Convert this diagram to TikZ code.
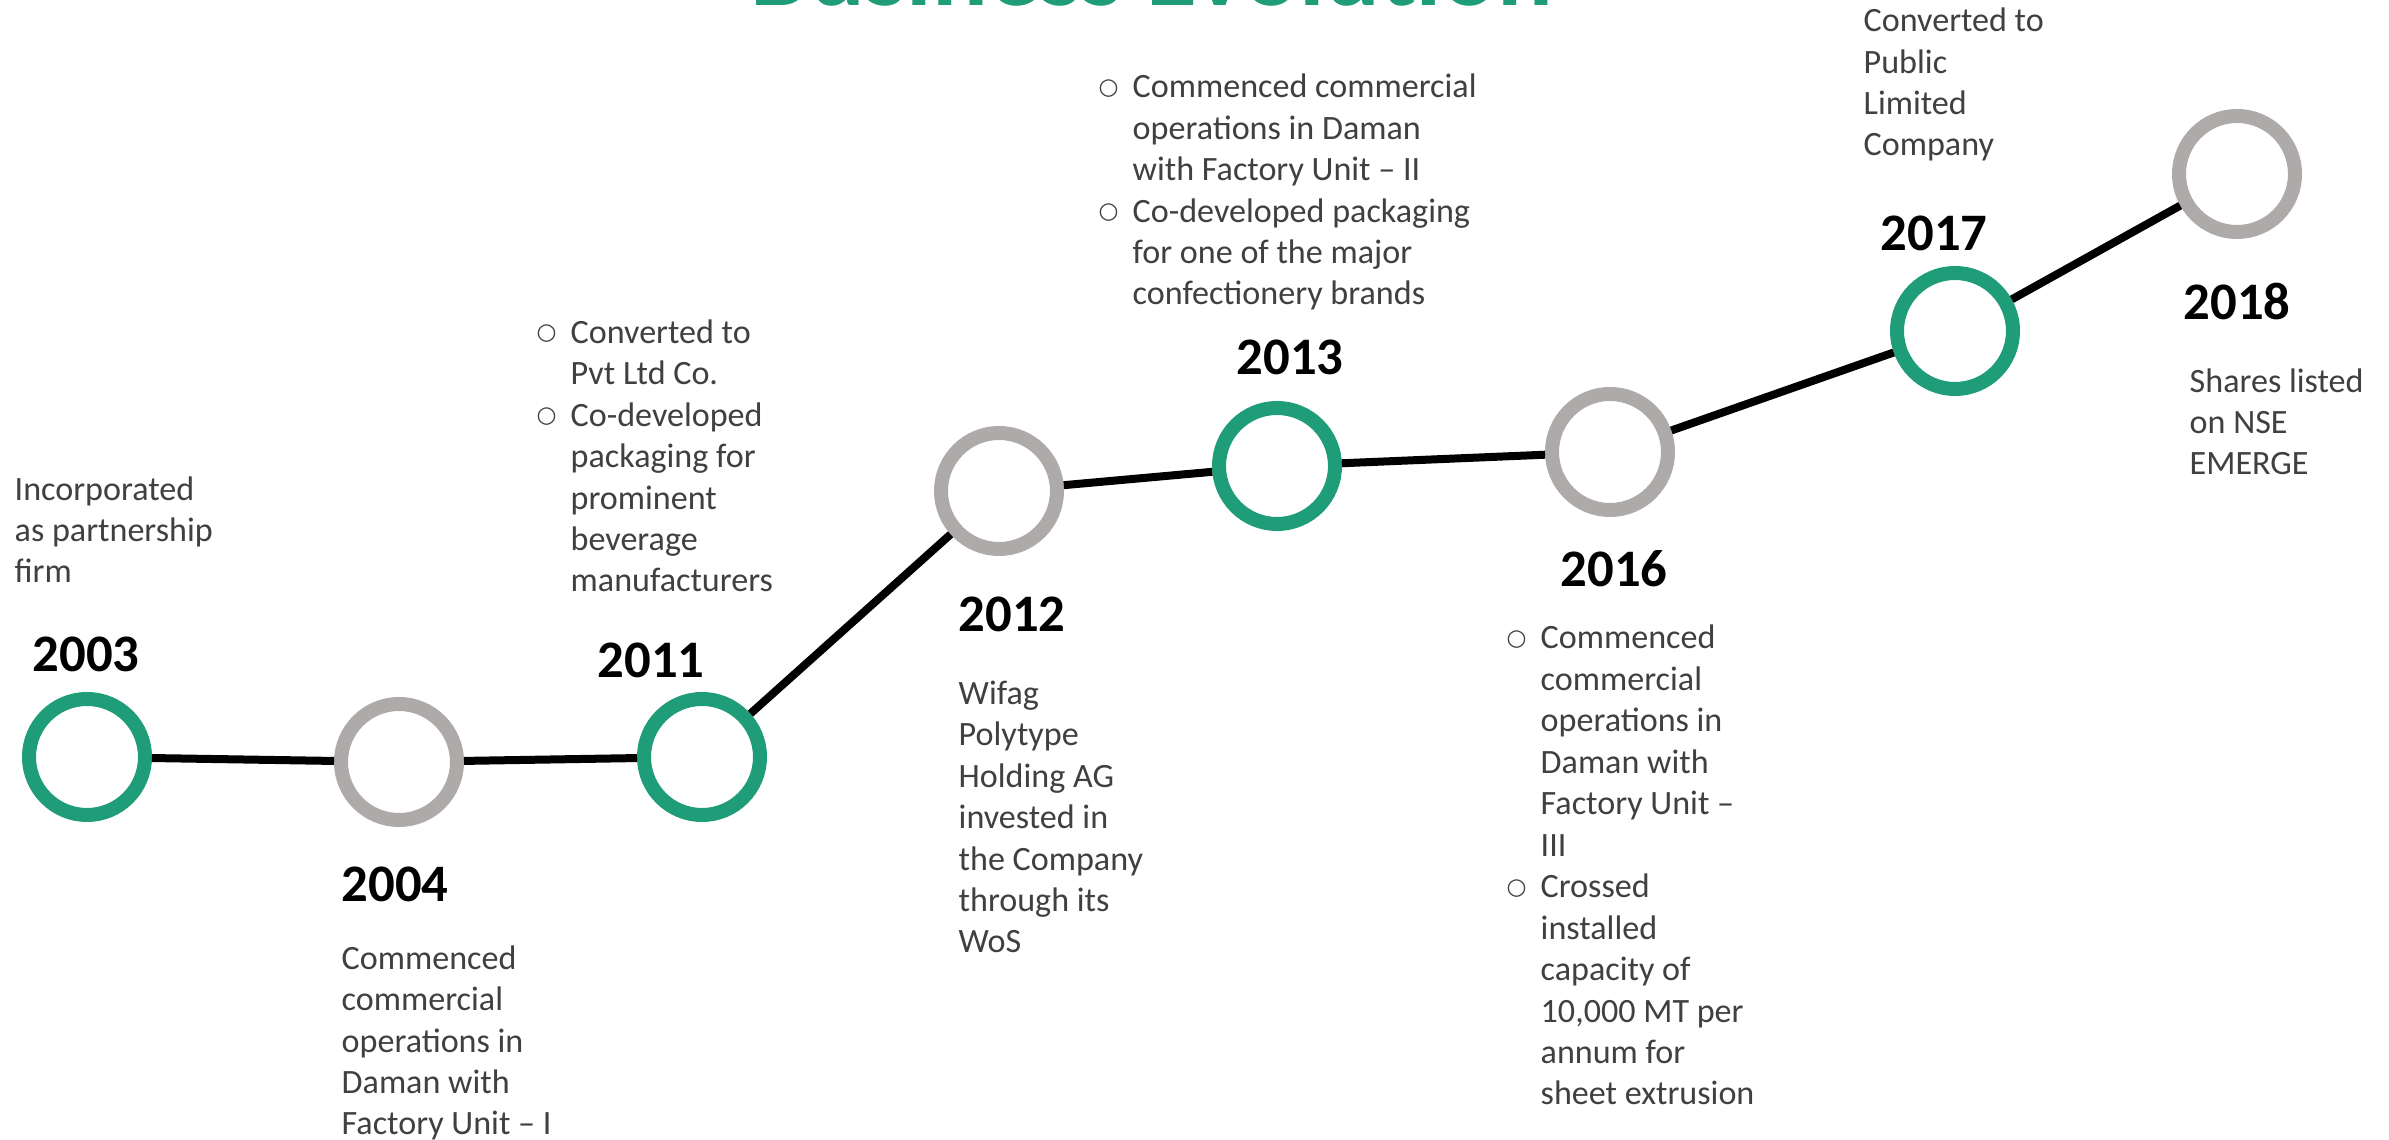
\documentclass[tikz,border=0pt]{standalone}
\usepackage{fontspec}
\setmainfont{Carlito}
\newfontfamily\bulletfont{DejaVu Sans}
\usepackage{tikz}
\usetikzlibrary{positioning}

\definecolor{evogreen}{HTML}{1F9C78}
\definecolor{evogray}{HTML}{ADAAA9}
\definecolor{evotext}{HTML}{404040}

\newcommand{\bul}{\makebox[0.34cm][l]{\raisebox{0.2ex}{\bulletfont\fontsize{6.5}{7}\selectfont ○}}}
\newcommand{\ind}{\hspace*{0.34cm}}

\tikzset{
  ring/.style={circle, draw=#1, line width=0.14cm, fill=white, minimum size=1.16cm, inner sep=0pt},
  timeline/.style={line width=0.08cm, black},
  year/.style={font=\bfseries\fontsize{15}{18}\selectfont, inner sep=0pt, anchor=base west},
  % base anchor of a multi-line node sits on its last line
  blurb/.style={font=\fontsize{9.7}{11.8}\selectfont, text=evotext, align=left, inner sep=0pt, anchor=base west}
}

\begin{document}
\begin{tikzpicture}
  \clip (0,0) rectangle (23.89,11.40);
  \fill[white] (0,0) rectangle (23.89,11.40);
  % title, cut off at the top
  \node[font=\bfseries\fontsize{29.6}{34}\selectfont, text=evogreen, inner sep=0pt, anchor=base] (title) at (11.52,11.34) {Business Evolution};
  \coordinate (p2003) at (0.87,3.83);
  \coordinate (p2004) at (3.99,3.78);
  \coordinate (p2011) at (7.02,3.83);
  \coordinate (p2012) at (9.99,6.49);
  \coordinate (p2013) at (12.77,6.74);
  \coordinate (p2016) at (16.10,6.88);
  \coordinate (p2017) at (19.55,8.09);
  \coordinate (p2018) at (22.37,9.66);
  \foreach \y/\c in {2003/evogreen,2004/evogray,2011/evogreen,2012/evogray,2013/evogreen,2016/evogray,2017/evogreen,2018/evogray}{
    \node[ring=\c] (c\y) at (p\y) {};
  }
  \foreach \a/\b in {2003/2004,2004/2011,2011/2012,2012/2013,2013/2016,2016/2017,2017/2018}{
    \draw[timeline] (c\a) -- (c\b);
  }
  % years
  \node[year] (y2003) at (0.32,4.68) {2003};
  \node[year] (y2004) at (3.41,2.38) {2004};
  \node[year] (y2011) at (5.97,4.62) {2011};
  \node[year] (y2012) at (9.58,5.08) {2012};
  \node[year] (y2013) at (12.36,7.65) {2013};
  \node[year] (y2016) at (15.60,5.53) {2016};
  \node[year] (y2017) at (18.80,8.89) {2017};
  \node[year] (y2018) at (21.83,8.20) {2018};
  % texts
  \node[blurb] (t2003) at (0.14,5.57) {Incorporated\\as partnership\\firm};
  \node[blurb] (t2004) at (3.41,0.05) {Commenced\\commercial\\operations in\\Daman with\\Factory Unit – I};
  \node[blurb] (t2011) at (5.36,5.48) {\bul Converted to\\\ind Pvt Ltd Co.\\\bul Co-developed\\\ind packaging for\\\ind prominent\\\ind beverage\\\ind manufacturers};
  \node[blurb] (t2012) at (9.58,1.87) {Wifag\\Polytype\\Holding AG\\invested in\\the Company\\through its\\WoS};
  \node[blurb] (t2013) at (10.98,8.35) {\bul Commenced commercial\\\ind operations in Daman\\\ind with Factory Unit – II\\\bul Co-developed packaging\\\ind for one of the major\\\ind confectionery brands};
  \node[blurb] (t2016) at (15.06,0.35) {\bul Commenced\\\ind commercial\\\ind operations in\\\ind Daman with\\\ind Factory Unit –\\\ind III\\\bul Crossed\\\ind installed\\\ind capacity of\\\ind 10,000 MT per\\\ind annum for\\\ind sheet extrusion};
  \node[blurb] (t2017) at (18.63,9.84) {Converted to\\Public\\Limited\\Company};
  \node[blurb] (t2018) at (21.89,6.65) {Shares listed\\on NSE\\EMERGE};
\end{tikzpicture}
\end{document}
